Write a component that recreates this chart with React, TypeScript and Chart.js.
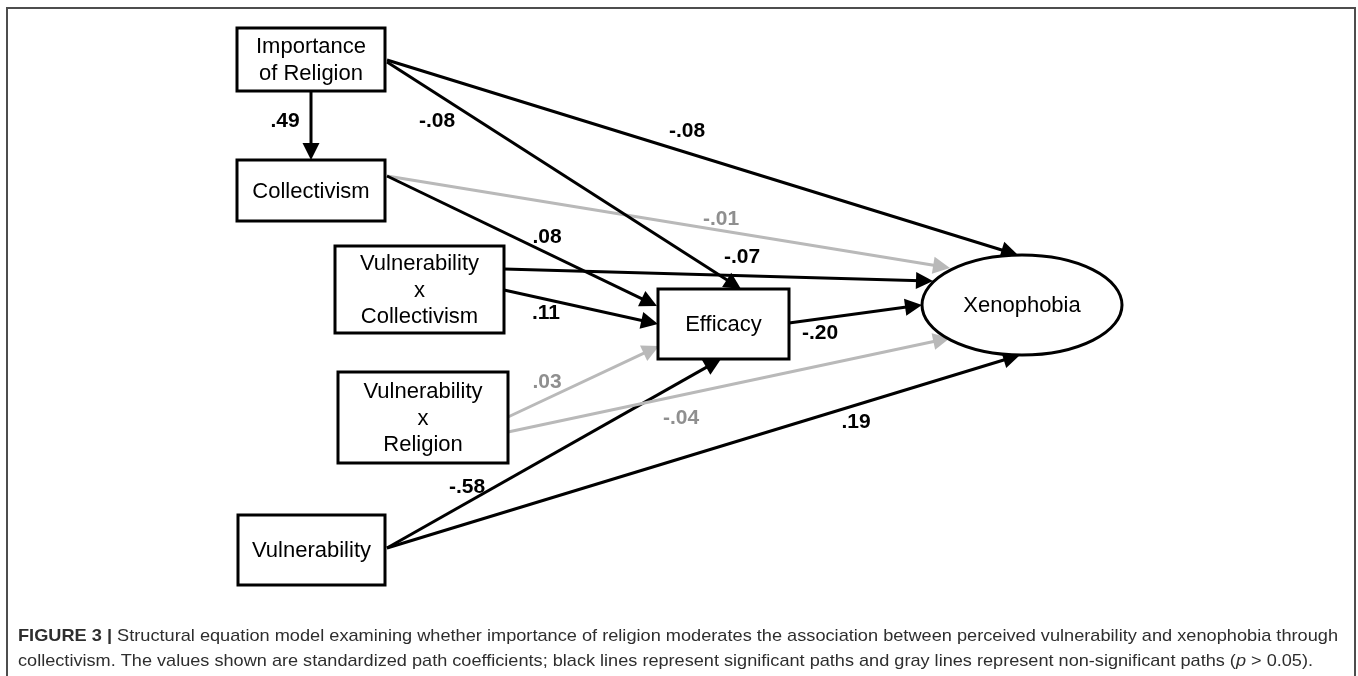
import React, { useEffect, useRef } from "react";
import { Chart, registerables } from "chart.js";

Chart.register(...registerables);

// ---------- DATA ----------
const nodeIds = ["religion", "collectivism", "vxc", "vxr", "vulnerability", "efficacy", "xenophobia"];
const nodeLabels = [
  ["Importance", "of Religion"],
  ["Collectivism"],
  ["Vulnerability", "x", "Collectivism"],
  ["Vulnerability", "x", "Religion"],
  ["Vulnerability"],
  ["Efficacy"],
  ["Xenophobia"],
];
const edgeFrom = ["religion", "religion", "religion", "collectivism", "collectivism", "vxc", "vxc", "efficacy", "vxr", "vxr", "vulnerability", "vulnerability"];
const edgeTo = ["collectivism", "efficacy", "xenophobia", "efficacy", "xenophobia", "xenophobia", "efficacy", "xenophobia", "efficacy", "xenophobia", "efficacy", "xenophobia"];
const coefficients = [".49", "-.08", "-.08", ".08", "-.01", "-.07", ".11", "-.20", ".03", "-.04", "-.58", ".19"];
const significant = [true, true, true, true, false, true, true, true, false, false, true, true];

const captionBold = "FIGURE 3 |";
const captionLine1 = " Structural equation model examining whether importance of religion moderates the association between perceived vulnerability and xenophobia through";
const captionLine2a = "collectivism. The values shown are standardized path coefficients; black lines represent significant paths and gray lines represent non-significant paths (";
const captionItalic = "p";
const captionLine2b = " > 0.05).";

// ---------- LAYOUT (diagram units) ----------
const nodeShape = ["box", "box", "box", "box", "box", "box", "ellipse"];
const nodeBoxes = [
  [237, 28, 385, 91],
  [237, 160, 385, 221],
  [335, 246, 504, 333],
  [338, 372, 508, 463],
  [238, 515, 385, 585],
  [658, 289, 789, 359],
  [922, 255, 1122, 355],
];
const edgeStart = [
  [311, 91], [387, 62], [387, 60], [387, 176], [387, 176], [504, 269],
  [504, 290], [789, 323], [508, 417], [508, 432], [387, 548], [387, 548],
];
const edgeEnd = [
  [311, 160], [741, 289], [1018, 255], [657, 306], [950, 268], [933, 281],
  [658, 324], [922, 305], [659, 346], [950, 338], [721, 359], [1020, 355],
];
const labelPos = [
  [285, 121], [437, 121], [687, 131], [547, 237], [721, 219], [742, 257],
  [546, 313], [820, 333], [547, 382], [681, 418], [467, 487], [856, 422],
];

const BLACK = "#000000";
const GRAY_LINE = "#b9b9b9";
const GRAY_TEXT = "#8f8f8f";
const ARROW_LEN = 17;
const ARROW_HALF = 8.5;
const FONT = "'Liberation Sans', Arial, Helvetica, sans-serif";

function shortened(i: number) {
  const [x0, y0] = edgeStart[i];
  const [x1, y1] = edgeEnd[i];
  const d = Math.hypot(x1 - x0, y1 - y0);
  const k = (d - ARROW_LEN * 0.7) / d;
  return { x: x0 + (x1 - x0) * k, y: y0 + (y1 - y0) * k };
}

const diagramPlugin = {
  id: "pathDiagram",
  afterDatasetsDraw(chart: any) {
    const ctx: CanvasRenderingContext2D = chart.ctx;
    const xs = chart.scales.x;
    const ys = chart.scales.y;
    const px = (v: number) => xs.getPixelForValue(v);
    const py = (v: number) => ys.getPixelForValue(v);

    ctx.save();
    // arrowheads
    edgeFrom.forEach((_, i) => {
      const tx = px(edgeEnd[i][0]);
      const ty = py(edgeEnd[i][1]);
      const sx = px(edgeStart[i][0]);
      const sy = py(edgeStart[i][1]);
      const d = Math.hypot(tx - sx, ty - sy);
      const ux = (tx - sx) / d;
      const uy = (ty - sy) / d;
      const bx = tx - ux * ARROW_LEN;
      const by = ty - uy * ARROW_LEN;
      ctx.beginPath();
      ctx.moveTo(tx, ty);
      ctx.lineTo(bx - uy * ARROW_HALF, by + ux * ARROW_HALF);
      ctx.lineTo(bx + uy * ARROW_HALF, by - ux * ARROW_HALF);
      ctx.closePath();
      ctx.fillStyle = significant[i] ? BLACK : GRAY_LINE;
      ctx.fill();
    });

    // nodes
    nodeIds.forEach((_, i) => {
      const [a, b, c, d] = nodeBoxes[i];
      const x0 = px(a), y0 = py(b), x1 = px(c), y1 = py(d);
      ctx.lineWidth = 3;
      ctx.strokeStyle = BLACK;
      ctx.fillStyle = "#ffffff";
      ctx.beginPath();
      if (nodeShape[i] === "ellipse") {
        ctx.ellipse((x0 + x1) / 2, (y0 + y1) / 2, (x1 - x0) / 2, (y1 - y0) / 2, 0, 0, Math.PI * 2);
      } else {
        ctx.rect(x0, y0, x1 - x0, y1 - y0);
      }
      ctx.fill();
      ctx.stroke();
      const lines = nodeLabels[i];
      const lh = 26.5;
      const cx = (x0 + x1) / 2;
      const cy = (y0 + y1) / 2;
      ctx.fillStyle = BLACK;
      ctx.font = `22px ${FONT}`;
      ctx.textAlign = "center";
      ctx.textBaseline = "middle";
      lines.forEach((t, j) => {
        ctx.fillText(t, cx, cy + (j - (lines.length - 1) / 2) * lh + 1);
      });
    });

    // coefficient labels
    ctx.font = `bold 21px ${FONT}`;
    ctx.textAlign = "center";
    ctx.textBaseline = "middle";
    coefficients.forEach((t, i) => {
      ctx.fillStyle = significant[i] ? BLACK : GRAY_TEXT;
      ctx.fillText(t, px(labelPos[i][0]), py(labelPos[i][1]));
    });

    // frame
    ctx.strokeStyle = "#4d4d4d";
    ctx.lineWidth = 2;
    ctx.beginPath();
    ctx.moveTo(px(7), py(676));
    ctx.lineTo(px(7), py(8));
    ctx.lineTo(px(1355), py(8));
    ctx.lineTo(px(1355), py(676));
    ctx.stroke();

    // caption
    const drawLine = (segs: { t: string; f: string }[], x0: number, x1: number, y: number) => {
      let total = 0;
      segs.forEach((s) => {
        ctx.font = s.f;
        total += ctx.measureText(s.t).width;
      });
      const k = (x1 - x0) / total;
      ctx.save();
      ctx.translate(x0, y);
      ctx.scale(k, 1);
      let cur = 0;
      ctx.textAlign = "left";
      ctx.textBaseline = "middle";
      segs.forEach((s) => {
        ctx.font = s.f;
        ctx.fillText(s.t, cur, 0);
        cur += ctx.measureText(s.t).width;
      });
      ctx.restore();
    };
    ctx.fillStyle = "#2e2e2e";
    drawLine(
      [
        { t: captionBold, f: `bold 17px ${FONT}` },
        { t: captionLine1, f: `17px ${FONT}` },
      ],
      px(18), px(1338), py(636)
    );
    drawLine(
      [
        { t: captionLine2a, f: `17px ${FONT}` },
        { t: captionItalic, f: `italic 17px ${FONT}` },
        { t: captionLine2b, f: `17px ${FONT}` },
      ],
      px(18), px(1313), py(661)
    );
    ctx.restore();
  },
};

export default function App() {
  const ref = useRef<HTMLCanvasElement | null>(null);
  useEffect(() => {
    if (!ref.current) return;
    const datasets = edgeFrom.map((f, i) => ({
      label: `${f} → ${edgeTo[i]} (${coefficients[i]})`,
      data: [{ x: edgeStart[i][0], y: edgeStart[i][1] }, shortened(i)],
      showLine: true,
      borderColor: significant[i] ? BLACK : GRAY_LINE,
      borderWidth: 3,
      pointRadius: 0,
      pointHoverRadius: 0,
      borderCapStyle: "butt" as const,
    }));
    const chart = new Chart(ref.current, {
      type: "scatter",
      data: { datasets },
      options: {
        responsive: false,
        animation: false,
        layout: { padding: 0 },
        scales: {
          x: { type: "linear", min: 0, max: 1358, display: false },
          y: { type: "linear", min: 0, max: 676, reverse: true, display: false },
        },
        plugins: { legend: { display: false }, tooltip: { enabled: false } },
        events: [],
      },
      plugins: [diagramPlugin],
    });
    return () => chart.destroy();
  }, []);
  return (
    <div style={{ position: "absolute", left: 0, top: 0, width: 1358, height: 676, background: "#fff" }}>
      <canvas ref={ref} width={1358} height={676} style={{ display: "block" }} />
    </div>
  );
}
